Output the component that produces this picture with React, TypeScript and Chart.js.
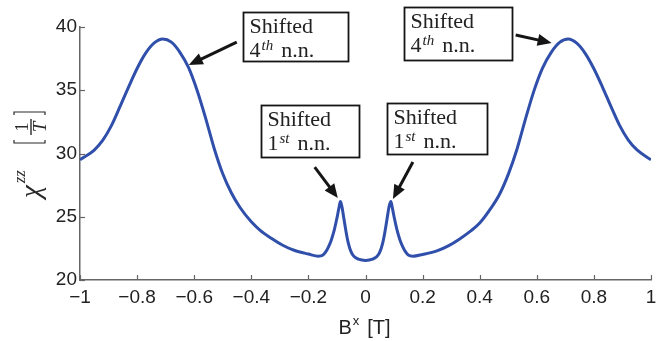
import { useEffect, useRef } from "react";
import Chart from "chart.js/auto";

// Transverse field B^x in tesla
const fieldB = [
  -1, -0.95, -0.92, -0.89, -0.86, -0.83, -0.8, -0.77, -0.74, -0.71, -0.68, -0.65,
  -0.62, -0.59, -0.56, -0.53, -0.5, -0.47, -0.44, -0.4, -0.37, -0.33, -0.29, -0.25, -0.2,
  -0.165, -0.15, -0.14, -0.13, -0.12, -0.11, -0.1, -0.093, -0.088, -0.083, -0.076, -0.068,
  -0.06, -0.05, -0.04, -0.025, 0,
  0.025, 0.04, 0.05, 0.06, 0.068, 0.076, 0.083, 0.089, 0.094, 0.101, 0.111, 0.121, 0.131,
  0.141, 0.151, 0.166, 0.2, 0.25, 0.29, 0.33, 0.37, 0.4, 0.44, 0.47, 0.5, 0.53, 0.56, 0.59,
  0.62, 0.65, 0.68, 0.71, 0.74, 0.77, 0.8, 0.83, 0.86, 0.89, 0.92, 0.95, 1,
];

// Susceptibility chi^zz in 1/T
const chiZZ = [
  29.5, 30.27, 31.05, 32.2, 33.7, 35.25, 36.72, 37.93, 38.74, 39.05, 38.8, 38.0,
  36.8, 35.0, 32.8, 30.4, 28.4, 26.9, 25.75, 24.6, 23.95, 23.3, 22.75, 22.35, 22.05,
  21.88, 21.95, 22.2, 22.6, 23.15, 23.9, 24.9, 25.7, 26.2, 25.85, 24.9, 23.8,
  22.9, 22.2, 21.85, 21.65, 21.55,
  21.65, 21.85, 22.2, 22.9, 23.8, 24.9, 25.85, 26.2, 25.7, 24.9, 23.9, 23.15, 22.6,
  22.2, 21.95, 21.88, 22.02, 22.3, 22.7, 23.25, 23.9, 24.5, 25.7, 26.8, 28.35, 30.3, 32.7,
  34.95, 36.75, 37.98, 38.78, 39.05, 38.72, 37.9, 36.7, 35.25, 33.7, 32.22, 31.08, 30.3, 29.5,
];

const X_MIN = -1;
const X_MAX = 1;
const X_STEP = 0.2;
const Y_MIN = 20;
const Y_MAX = 40;
const Y_STEP = 5;

// Callout boxes: top-left corner and arrow ends in data units, box size in px
const noteOrders = ["4", "4", "1", "1"];
const noteSuffixes = ["th", "th", "st", "st"];
const noteCorners = [[-0.43, 41.15], [0.134, 41.55], [-0.367, 33.83], [0.075, 33.99]];
const noteSizes = [[105, 49], [108, 53], [98, 52], [100, 51]];
const arrowTails = [[-0.451, 38.81], [0.526, 39.37], [-0.178, 28.93], [0.166, 29.33]];
const arrowTips = [[-0.619, 37.0], [0.652, 38.74], [-0.097, 26.48], [0.096, 26.4]];

const SERIF = '"Liberation Serif", "Times New Roman", serif';
const SANS = '"Liberation Sans", Arial, Helvetica, sans-serif';
const LINE_COLOR = "#2f4fab";
const AXIS_COLOR = "#666666";
const TEXT_COLOR = "#222222";

function formatTick(v: number): string {
  const r = Math.round(v * 10) / 10;
  const s = String(Math.abs(r));
  return r < 0 ? "\u2212" + s : s;
}

function drawArrow(ctx: CanvasRenderingContext2D, x0: number, y0: number, x1: number, y1: number) {
  const ang = Math.atan2(y1 - y0, x1 - x0);
  const head = 14;
  const half = 6;
  const bx = x1 - head * Math.cos(ang);
  const by = y1 - head * Math.sin(ang);
  ctx.strokeStyle = "#151515";
  ctx.fillStyle = "#151515";
  ctx.lineWidth = 3;
  ctx.lineCap = "butt";
  ctx.beginPath();
  ctx.moveTo(x0, y0);
  ctx.lineTo(bx + 2 * Math.cos(ang), by + 2 * Math.sin(ang));
  ctx.stroke();
  ctx.beginPath();
  ctx.moveTo(x1, y1);
  ctx.lineTo(bx + half * Math.sin(ang), by - half * Math.cos(ang));
  ctx.lineTo(bx - half * Math.sin(ang), by + half * Math.cos(ang));
  ctx.closePath();
  ctx.fill();
}

const decorations = {
  id: "decorations",
  afterDraw(chart: any) {
    const ctx: CanvasRenderingContext2D = chart.ctx;
    const area = chart.chartArea;
    const xs = chart.scales.x;
    const ys = chart.scales.y;
    ctx.save();

    // inward tick marks
    ctx.strokeStyle = AXIS_COLOR;
    ctx.lineWidth = 1.2;
    xs.ticks.forEach((t: any) => {
      const p = Math.round(xs.getPixelForValue(t.value)) + 0.5;
      ctx.beginPath();
      ctx.moveTo(p, area.bottom);
      ctx.lineTo(p, area.bottom - 5);
      ctx.stroke();
    });
    ys.ticks.forEach((t: any) => {
      const p = Math.round(ys.getPixelForValue(t.value)) + 0.5;
      ctx.beginPath();
      ctx.moveTo(area.left, p);
      ctx.lineTo(area.left + 5, p);
      ctx.stroke();
    });

    // x-axis title: B^x [T]
    ctx.fillStyle = TEXT_COLOR;
    ctx.textBaseline = "alphabetic";
    ctx.textAlign = "left";
    const bigFont = `20px ${SANS}`;
    const supFont = `13px ${SANS}`;
    ctx.font = bigFont;
    const wB = ctx.measureText("B").width;
    const wT = ctx.measureText("[T]").width;
    ctx.font = supFont;
    const wx = ctx.measureText("x").width;
    const total = wB + 1 + wx + 8 + wT;
    let cx = (area.left + area.right) / 2 - total / 2 - 1;
    const base = area.bottom + 54;
    ctx.font = bigFont;
    ctx.fillText("B", cx, base);
    cx += wB + 1;
    ctx.font = supFont;
    ctx.fillText("x", cx, base - 9);
    cx += wx + 8;
    ctx.font = bigFont;
    ctx.fillText("[T]", cx, base);

    // y-axis title: chi^zz [1/T], rotated
    ctx.save();
    ctx.translate(45, area.top + 171);
    ctx.rotate(-Math.PI / 2);
    ctx.fillStyle = "#2a2a2a";
    ctx.strokeStyle = "#2a2a2a";
    ctx.font = `italic 29px ${SERIF}`;
    ctx.fillText("\u03c7", 0, -5);
    const wChi = ctx.measureText("\u03c7").width;
    ctx.font = `italic 17px ${SERIF}`;
    ctx.fillText("zz", wChi + 2, -20);
    ctx.lineWidth = 1.2;
    // brackets
    ctx.beginPath();
    ctx.moveTo(58, -31); ctx.lineTo(55, -31); ctx.lineTo(55, 0); ctx.lineTo(58, 0);
    ctx.moveTo(83, -31); ctx.lineTo(86, -31); ctx.lineTo(86, 0); ctx.lineTo(83, 0);
    ctx.stroke();
    // fraction
    ctx.lineWidth = 1.4;
    ctx.beginPath();
    ctx.moveTo(63, -14);
    ctx.lineTo(79, -14);
    ctx.stroke();
    ctx.textAlign = "center";
    ctx.font = `19px ${SERIF}`;
    ctx.fillText("1", 71, -17);
    ctx.font = `italic 19px ${SERIF}`;
    ctx.fillText("T", 71, 1);
    ctx.restore();

    // callout boxes with arrows
    for (let i = 0; i < noteCorners.length; i++) {
      const bx = Math.round(xs.getPixelForValue(noteCorners[i][0])) + 0.5;
      const by = Math.round(ys.getPixelForValue(noteCorners[i][1])) + 0.5;
      const [bw, bh] = noteSizes[i];
      drawArrow(
        ctx,
        xs.getPixelForValue(arrowTails[i][0]),
        ys.getPixelForValue(arrowTails[i][1]),
        xs.getPixelForValue(arrowTips[i][0]),
        ys.getPixelForValue(arrowTips[i][1])
      );
      ctx.fillStyle = "#ffffff";
      ctx.fillRect(bx, by, bw, bh);
      ctx.strokeStyle = "#151515";
      ctx.lineWidth = 1.8;
      ctx.strokeRect(bx, by, bw, bh);

      ctx.fillStyle = TEXT_COLOR;
      ctx.textAlign = "left";
      ctx.font = `22px ${SERIF}`;
      const tx = bx + 6;
      ctx.fillText("Shifted", tx, by + 20);
      ctx.fillText(noteOrders[i], tx, by + 44);
      const wo = ctx.measureText(noteOrders[i]).width;
      ctx.font = `italic 15px ${SERIF}`;
      ctx.fillText(noteSuffixes[i], tx + wo + 1, by + 37);
      const ws = ctx.measureText(noteSuffixes[i]).width;
      ctx.font = `22px ${SERIF}`;
      ctx.fillText("n.n.", tx + wo + ws + 9, by + 44);
    }
    ctx.restore();
  },
};

export default function App() {
  const canvasRef = useRef<HTMLCanvasElement | null>(null);

  useEffect(() => {
    if (!canvasRef.current) return;
    const points = fieldB.map((b, i) => ({ x: b, y: chiZZ[i] }));
    const chart = new Chart(canvasRef.current, {
      type: "line",
      data: {
        datasets: [
          {
            data: points,
            borderColor: LINE_COLOR,
            borderWidth: 3,
            pointRadius: 0,
            fill: false,
            cubicInterpolationMode: "monotone",
          },
        ],
      },
      options: {
        responsive: false,
        animation: false,
        devicePixelRatio: 1,
        layout: { padding: { top: 27, right: 15, left: 0, bottom: 0 } },
        plugins: { legend: { display: false }, tooltip: { enabled: false } },
        scales: {
          x: {
            type: "linear",
            min: X_MIN,
            max: X_MAX,
            grid: { display: false, drawTicks: false },
            border: { display: true, color: AXIS_COLOR, width: 1.5 },
            ticks: {
              stepSize: X_STEP,
              padding: 6,
              color: TEXT_COLOR,
              font: { family: SANS, size: 19 },
              maxRotation: 0,
              autoSkip: false,
              callback: (v: any) => formatTick(Number(v)),
            },
            afterFit: (s: any) => {
              s.height = 61;
            },
          },
          y: {
            type: "linear",
            min: Y_MIN,
            max: Y_MAX,
            grid: { display: false, drawTicks: false },
            border: { display: true, color: AXIS_COLOR, width: 1.5 },
            ticks: {
              stepSize: Y_STEP,
              padding: 3,
              color: TEXT_COLOR,
              font: { family: SANS, size: 19 },
              callback: (v: any) => formatTick(Number(v)),
            },
            afterFit: (s: any) => {
              s.width = 80;
            },
          },
        },
      },
      plugins: [decorations],
    });
    return () => chart.destroy();
  }, []);

  return (
    <div style={{ position: "absolute", left: 0, top: 0, width: 666, height: 341, background: "#ffffff" }}>
      <canvas ref={canvasRef} width={666} height={341} style={{ display: "block" }} />
    </div>
  );
}
